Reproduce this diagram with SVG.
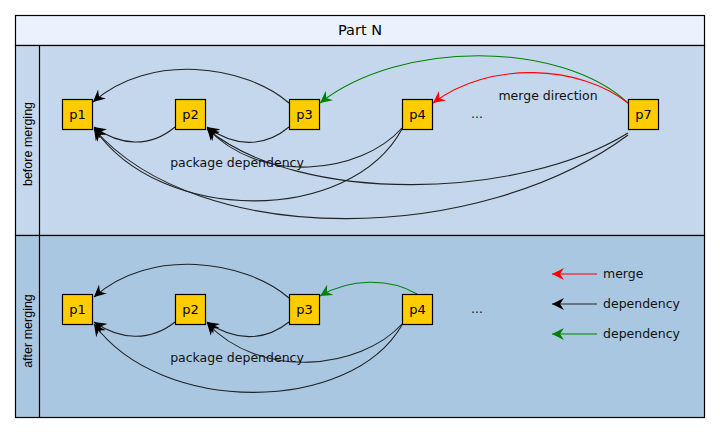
<svg xmlns="http://www.w3.org/2000/svg" width="720" height="432" viewBox="0 0 720 432">
<style>
.lane{stroke:#000;stroke-width:1.2}
.node rect{fill:#ffcc00;stroke:#000;stroke-width:1.2}
.node text{font-family:"DejaVu Sans",sans-serif;font-size:13px;fill:#000;text-anchor:middle}
.lbl{font-family:"DejaVu Sans",sans-serif;font-size:12.5px;fill:#111}
.lane-lbl{font-family:"Liberation Sans",sans-serif;font-size:12.5px;fill:#000;text-anchor:middle}
.e{fill:none;stroke:#222;stroke-width:1.1}
.eg{fill:none;stroke:#008000;stroke-width:1.1}
.er{fill:none;stroke:#ff0000;stroke-width:1.1}
</style>
<defs>
<marker id="ab" markerUnits="userSpaceOnUse" markerWidth="14" markerHeight="12" refX="12" refY="6" orient="auto" viewBox="0 0 14 12"><path d="M12,6 L0,0 L4,6 L0,12 Z" fill="#000"/></marker>
<marker id="ag" markerUnits="userSpaceOnUse" markerWidth="14" markerHeight="12" refX="12" refY="6" orient="auto" viewBox="0 0 14 12"><path d="M12,6 L0,0 L4,6 L0,12 Z" fill="#008000"/></marker>
<marker id="ar" markerUnits="userSpaceOnUse" markerWidth="14" markerHeight="12" refX="12" refY="6" orient="auto" viewBox="0 0 14 12"><path d="M12,6 L0,0 L4,6 L0,12 Z" fill="#ff0000"/></marker>
</defs>
<rect width="720" height="432" fill="#fff"/>
<g id="pool">
<rect class="lane" x="15.5" y="15.5" width="689" height="30" fill="#ebf2fd"/>
<text x="360" y="35" font-family="DejaVu Sans,sans-serif" font-size="14.5px" text-anchor="middle" fill="#000">Part N</text>
<rect class="lane" x="15.5" y="45.5" width="689" height="190" fill="#c4d7ec"/>
<rect class="lane" x="15.5" y="235.5" width="689" height="182" fill="#a9c7e1"/>
<line class="lane" x1="39.5" y1="45.5" x2="39.5" y2="417.5"/>
<text class="lane-lbl" transform="translate(31.5,144) rotate(-90)">before merging</text>
<text class="lane-lbl" transform="translate(31.5,331) rotate(-90)">after merging</text>
</g>
<g id="connectors">
<path class="e" d="M289,103 C245,65 150,52 93,102" marker-end="url(#ab)"/>
<path class="e" d="M175,127 C150,148 120,146 94,127" marker-end="url(#ab)"/>
<path class="e" d="M289,127 C264,148 234,147 207,127" marker-end="url(#ab)"/>
<path class="e" d="M402,128 C360,175 260,185 207,128" marker-end="url(#ab)"/>
<path class="e" d="M628,133 C520,200 300,205 207,129" marker-end="url(#ab)"/>
<path class="e" d="M402,129 C350,225 160,225 94,128" marker-end="url(#ab)"/>
<path class="e" d="M628,135 C480,245 200,250 94,129" marker-end="url(#ab)"/>
<path class="eg" d="M628,103 C560,40 400,40 320,103" marker-end="url(#ag)"/>
<path class="er" d="M628,103 C580,65 490,60 433,103" marker-end="url(#ar)"/>
<text class="lbl" x="548" y="100" text-anchor="middle">merge direction</text>
<text class="lbl" x="237" y="167" text-anchor="middle">package dependency</text>
<path class="e" d="M289,298 C245,260 150,247 94,297" marker-end="url(#ab)"/>
<path class="e" d="M175,322 C150,342 120,340 94,322" marker-end="url(#ab)"/>
<path class="e" d="M289,322 C264,342 234,341 207,322" marker-end="url(#ab)"/>
<path class="e" d="M402,324 C360,370 260,380 207,323" marker-end="url(#ab)"/>
<path class="e" d="M402,325 C350,415 160,415 94,324" marker-end="url(#ab)"/>
<path class="eg" d="M417,294 C390,278 350,278 320,296" marker-end="url(#ag)"/>
<text class="lbl" x="237" y="362" text-anchor="middle">package dependency</text>
</g>
<g id="n-top">
<g id="t-p1" class="node"><rect x="62.5" y="99.5" width="30" height="30"/><text x="77.5" y="119">p1</text></g>
<g id="t-p2" class="node"><rect x="175.5" y="99.5" width="30" height="30"/><text x="190.5" y="119">p2</text></g>
<g id="t-p3" class="node"><rect x="289.5" y="99.5" width="30" height="30"/><text x="304.5" y="119">p3</text></g>
<g id="t-p4" class="node"><rect x="402.5" y="99.5" width="30" height="30"/><text x="417.5" y="119">p4</text></g>
<g id="t-p7" class="node"><rect x="628.5" y="99.5" width="30" height="30"/><text x="643.5" y="119">p7</text></g>
<text class="lbl" x="477" y="118" text-anchor="middle">...</text>
</g>
<g id="n-bottom">
<g id="b-p1" class="node"><rect x="62.5" y="294.5" width="30" height="30"/><text x="77.5" y="314">p1</text></g>
<g id="b-p2" class="node"><rect x="175.5" y="294.5" width="30" height="30"/><text x="190.5" y="314">p2</text></g>
<g id="b-p3" class="node"><rect x="289.5" y="294.5" width="30" height="30"/><text x="304.5" y="314">p3</text></g>
<g id="b-p4" class="node"><rect x="402.5" y="294.5" width="30" height="30"/><text x="417.5" y="314">p4</text></g>
<text class="lbl" x="477" y="313" text-anchor="middle">...</text>
</g>
<g id="legend">
<line class="er" x1="597" y1="274" x2="552" y2="274" marker-end="url(#ar)"/>
<text class="lbl" x="603" y="278">merge</text>
<line class="e" x1="597" y1="304" x2="552" y2="304" marker-end="url(#ab)"/>
<text class="lbl" x="603" y="308">dependency</text>
<line class="eg" x1="597" y1="334" x2="552" y2="334" marker-end="url(#ag)"/>
<text class="lbl" x="603" y="338">dependency</text>
</g>
</svg>
